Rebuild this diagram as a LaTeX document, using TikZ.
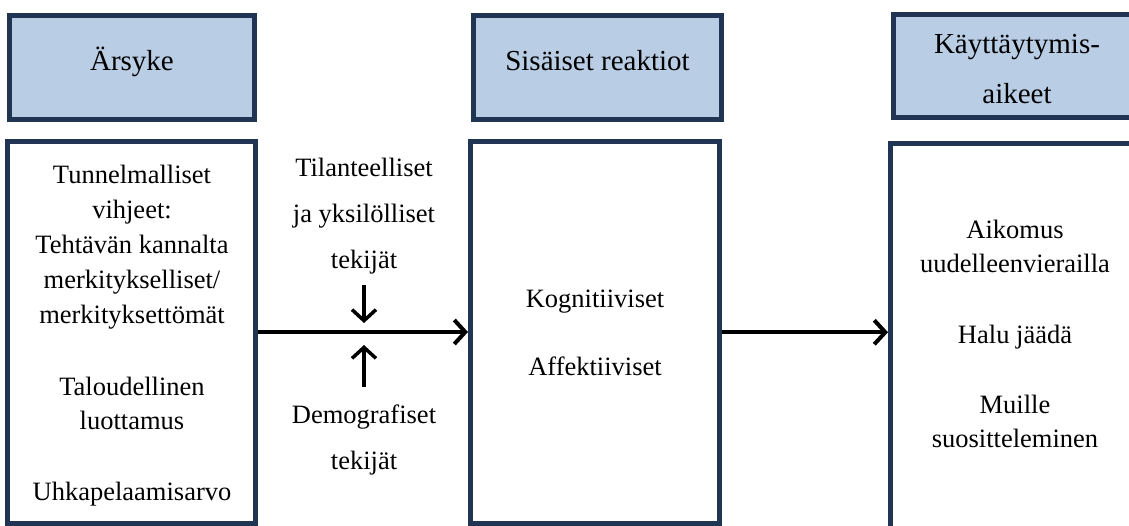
\documentclass[tikz,border=0pt]{standalone}
\usepackage{fontspec}
\setmainfont{Liberation Serif}
\usetikzlibrary{arrows.meta}
\definecolor{navy}{HTML}{1F3553}
\definecolor{lightblue}{HTML}{B9CDE5}
\begin{document}
\begin{tikzpicture}[x=1pt,y=-1pt,
  hbox/.style={draw=navy, line width=5pt, fill=lightblue, inner sep=0pt},
  bbox/.style={draw=navy, line width=5pt, fill=white, inner sep=0pt},
  txt/.style={font=\fontsize{26.5}{35}\selectfont, inner sep=0pt, anchor=base},
  htxt/.style={font=\fontsize{29}{35}\selectfont, inner sep=0pt, anchor=base},
  mainarrow/.style={line width=4pt, -{Straight Barb[length=11pt,width=24pt]}},
  smallarrow/.style={line width=3.5pt, -{Straight Barb[length=11pt,width=24pt]}}]
\useasboundingbox (0,0) rectangle (1129,525);
\clip (0,0) rectangle (1129,525);
\fill[white] (0,0) rectangle (1129,525);

% header boxes
\node[hbox, minimum width=245pt, minimum height=104pt] (h1) at (132,67.5) {};
\node[hbox, minimum width=248pt, minimum height=104pt] (h2) at (597.5,67.5) {};
\node[hbox, minimum width=270pt, minimum height=103pt] (h3) at (1028,66) {};
% body boxes
\node[bbox, minimum width=247.5pt, minimum height=382pt] (b1) at (131.25,332) {};
\node[bbox, minimum width=249pt, minimum height=381.5pt] (b2) at (595,332.25) {};
\node[bbox, minimum width=270pt, minimum height=387pt] (b3) at (1025.5,336.5) {};

% header texts
\node[htxt] (h1t) at (132,70) {Ärsyke};
\node[htxt] (h2t) at (597.5,70) {Sisäiset reaktiot};
\node[htxt] (h3ta) at (1017,53) {Käyttäytymis-};
\node[htxt] (h3tb) at (1017,103) {aikeet};

% box 1 texts
\node[txt] (t1a) at (132,183) {Tunnelmalliset};
\node[txt] (t1b) at (132,218) {vihjeet:};
\node[txt] (t1c) at (132,253) {Tehtävän kannalta};
\node[txt] (t1d) at (132,288) {merkitykselliset/};
\node[txt] (t1e) at (132,323) {merkityksettömät};
\node[txt] (t1f) at (132,395) {Taloudellinen};
\node[txt] (t1g) at (132,429) {luottamus};
\node[txt] (t1h) at (132,500) {Uhkapelaamisarvo};

% middle texts
\node[txt] (m1) at (364,176) {Tilanteelliset};
\node[txt] (m2) at (364,222) {ja yksilölliset};
\node[txt] (m3) at (364,268) {tekijät};
\node[txt] (m4) at (364,423) {Demografiset};
\node[txt] (m5) at (364,469) {tekijät};

% box 2 texts
\node[txt] (t2a) at (595,307) {Kognitiiviset};
\node[txt] (t2b) at (595,375) {Affektiiviset};

% box 3 texts
\node[txt] (t3a) at (1015,238) {Aikomus};
\node[txt] (t3b) at (1015,272) {uudelleenvierailla};
\node[txt] (t3c) at (1015,343) {Halu jäädä};
\node[txt] (t3d) at (1015,413) {Muille};
\node[txt] (t3e) at (1015,447) {suositteleminen};

% arrows
\draw[mainarrow] (b1.east) -- (b1.east -| b2.west);
\draw[mainarrow] (b2.east) -- (b2.east -| b3.west);
\coordinate (da) at (364,285);
\coordinate (db) at (364,323);
\coordinate (ua) at (364,387);
\coordinate (ub) at (364,345);
\draw[smallarrow] (da) -- (db);
\draw[smallarrow] (ua) -- (ub);
\end{tikzpicture}
\end{document}
